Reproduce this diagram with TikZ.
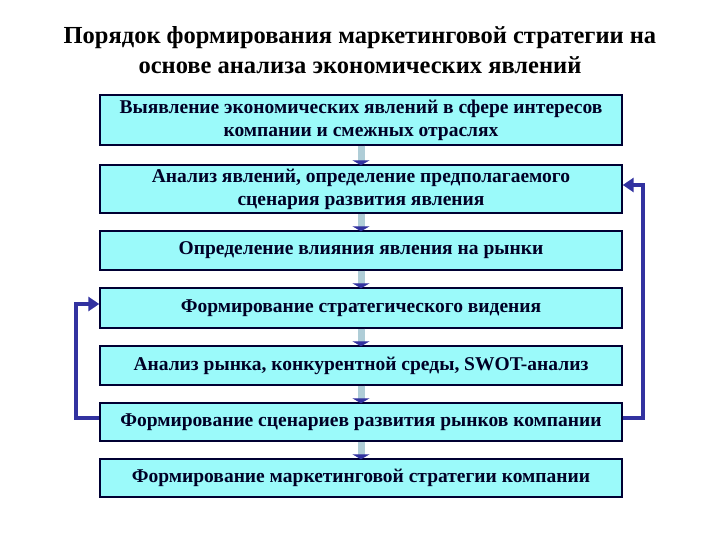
\documentclass[tikz,border=0pt]{standalone}
\usepackage{fontspec}
\setmainfont{Liberation Serif}
\usetikzlibrary{arrows.meta}
\definecolor{boxfill}{RGB}{155,250,250}
\definecolor{shaft}{RGB}{175,205,215}
\definecolor{loopc}{RGB}{50,50,160}
\begin{document}
\begin{tikzpicture}[x=1pt,y=-1pt,
  box/.style={draw=black!80!blue,line width=1.4pt,fill=boxfill,minimum width=522pt,inner sep=0pt,align=center,font=\bfseries\fontsize{19.5}{23}\selectfont,text=black!85!blue},
  down/.style={draw=shaft,line width=7pt,-{Triangle[width=17pt,length=5pt,color=loopc]},shorten >=-1pt},
  loop/.style={draw=loopc,line width=4pt,-{Triangle[width=14pt,length=11pt]}}]
\useasboundingbox (0,0) rectangle (720,540);
\node[font=\bfseries\fontsize{24.5}{30}\selectfont,align=center] (title) at (360,50) {Порядок формирования маркетинговой стратегии на\\основе анализа экономических явлений};
\node[box,minimum height=50pt] (b1) at (361,120) {Выявление экономических явлений в сфере интересов\\компании и смежных отраслях};
\node[box,minimum height=48pt] (b2) at (361,189) {Анализ явлений, определение предполагаемого\\сценария развития явления};
\node[box,minimum height=39pt] (b3) at (361,250.5) {Определение влияния явления на рынки};
\node[box,minimum height=40pt] (b4) at (361,308) {Формирование стратегического видения};
\node[box,minimum height=39pt] (b5) at (361,365.5) {Анализ рынка, конкурентной среды, SWOT-анализ};
\node[box,minimum height=38pt] (b6) at (361,422) {Формирование сценариев развития рынков компании};
\node[box,minimum height=38pt] (b7) at (361,478) {Формирование маркетинговой стратегии компании};
\foreach \a/\b in {b1/b2,b2/b3,b3/b4,b4/b5,b5/b6,b6/b7}
  \draw[down] (\a.south) -- (\b.north);
\coordinate (r1) at (643,418);
\coordinate (r2) at (643,185);
\draw[loop] (b6.east |- r1) -- (r1) -- (r2) -- (b2.east |- r2);
\coordinate (l1) at (76,418);
\coordinate (l2) at (76,304);
\draw[loop] (b6.west |- l1) -- (l1) -- (l2) -- (b4.west |- l2);
\end{tikzpicture}
\end{document}
